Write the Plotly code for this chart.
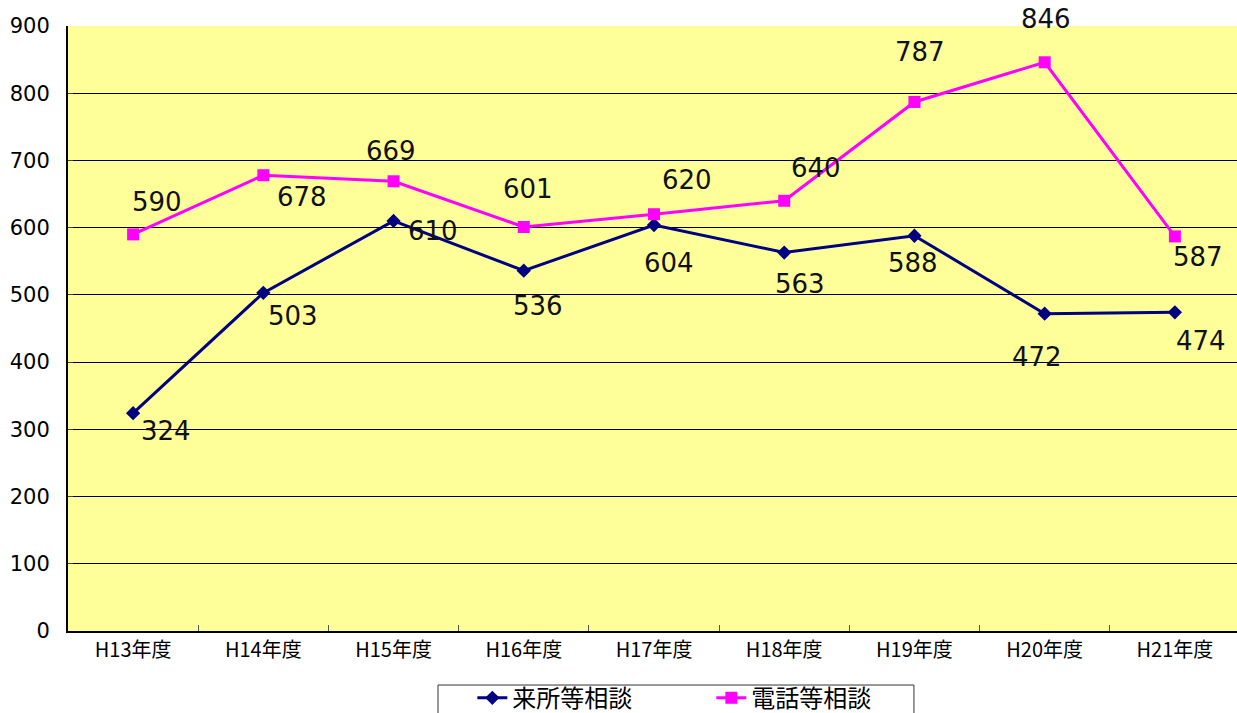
import plotly.graph_objects as go

categories = ["H13年度", "H14年度", "H15年度", "H16年度", "H17年度", "H18年度", "H19年度", "H20年度", "H21年度"]
raisho = [324, 503, 610, 536, 604, 563, 588, 472, 474]
denwa = [590, 678, 669, 601, 620, 640, 787, 846, 587]
series_names = ["来所等相談", "電話等相談"]

# label offsets (pixels) for data labels
raisho_off = [(33, 18), (30, 23), (39, 10), (14, 35), (15, 38), (16, 31), (-1, 27), (-8, 43), (26, 29)]
denwa_off = [(24, -32), (39, 22), (-3, -30), (4, -38), (33, -34), (32, -33), (6, -50), (1, -43), (23, 21)]

FONT = "Noto Sans CJK JP, DejaVu Sans, sans-serif"
NUMFONT = "DejaVu Sans"
NAVY = "#000080"
MAG = "#FF00FF"

fig = go.Figure()
fig.add_trace(go.Scatter(x=categories, y=raisho, mode="lines+markers", name=series_names[0],
                         line=dict(color=NAVY, width=3),
                         marker=dict(symbol="diamond", size=11, color=NAVY)))
fig.add_trace(go.Scatter(x=categories, y=denwa, mode="lines+markers", name=series_names[1],
                         line=dict(color=MAG, width=3),
                         marker=dict(symbol="square", size=12, color=MAG)))

for vals, offs in ((raisho, raisho_off), (denwa, denwa_off)):
    for c, v, (dx, dy) in zip(categories, vals, offs):
        fig.add_annotation(x=c, y=v, text=str(v), showarrow=False,
                           xshift=dx, yshift=-dy,
                           font=dict(family=NUMFONT, size=26, color="#111111"))

# legend frame
fig.add_shape(type="rect", xref="paper", yref="paper",
              x0=0.3157, x1=0.7218, y0=-0.0893, y1=-0.16,
              line=dict(color="#333333", width=1), fillcolor="white", layer="below")

fig.update_layout(
    width=1240, height=713, autosize=False,
    margin=dict(l=68, r=0, t=26, b=82, autoexpand=False),
    paper_bgcolor="white", plot_bgcolor="#FFFF99",
    font=dict(family=FONT, color="#000000"),
    showlegend=True,
    legend=dict(orientation="h", x=0.345, xanchor="left", y=-0.074, yanchor="top",
                borderwidth=0, bgcolor="rgba(0,0,0,0)",
                font=dict(family=FONT, size=24), entrywidth=194),
    xaxis=dict(type="category", showline=True, linecolor="#000000", linewidth=2,
               ticks="inside", tickson="boundaries", ticklen=6, tickcolor="#555555",
               showgrid=False, tickfont=dict(size=20), range=[-0.5, 8.5],
               automargin=False),
    yaxis=dict(range=[0, 900], dtick=100, showline=True, linecolor="#000000", linewidth=2,
               gridcolor="#000000", gridwidth=1, ticks="inside", ticklen=5,
               tickfont=dict(size=21, family=NUMFONT), ticklabelstandoff=12, zeroline=False,
               automargin=False),
)

post = ("document.body.style.margin='0';document.body.style.overflow='hidden';"
        "Plotly.relayout('{plot_id}', {width:1240, height:713});")
fig.write_html("out.html", post_script=post,
               config={"responsive": False, "displayModeBar": False})
